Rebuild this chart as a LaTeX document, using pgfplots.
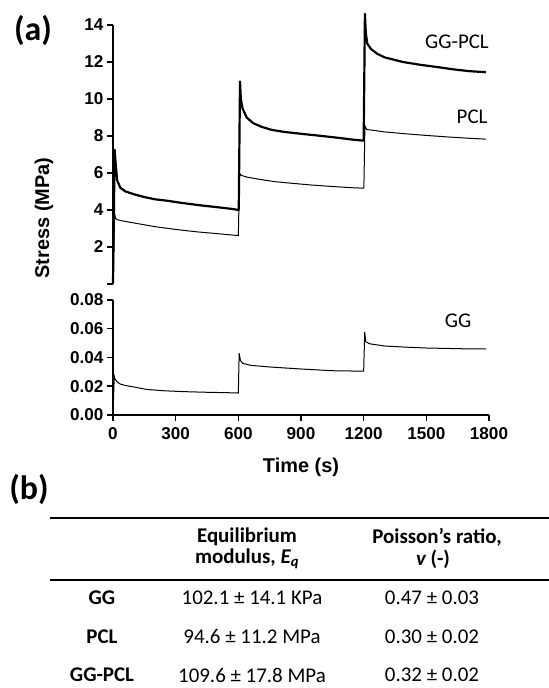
\documentclass[border=0pt]{standalone}
\usepackage{pgfplots}
\pgfplotsset{compat=1.18}
\usepackage{fontspec}
\setmainfont{Liberation Sans}
\newfontfamily\calib{Carlito}
\begin{document}
\begin{tikzpicture}
\path[use as bounding box] (0,0) rectangle (549bp,688bp);
\pgfplotsset{
  common/.style={
    scale only axis, width=376bp, xmin=0, xmax=1800, clip=false,
    tick align=outside, major tick length=6bp,
    tick style={line width=1.5bp, black},
    axis line style={line width=1.8bp},
    /pgf/number format/assume math mode=true,
    /pgf/number format/set thousands separator={},
    tick label style={font=\fontsize{17.2}{20}\selectfont\bfseries},
  }
}
% ---------- bottom axis (GG) ----------
\begin{axis}[common, at={(113bp,273bp)}, anchor=south west, height=115bp,
  ymin=0, ymax=0.08, axis lines*=left,
  xtick={0,300,600,900,1200,1500,1800},
  ytick={0,0.02,0.04,0.06,0.08},
  xticklabel style={yshift=-3bp},
  yticklabel style={/pgf/number format/.cd, fixed, fixed zerofill, precision=2},
  scaled y ticks=false]
\addplot[black, line width=1bp] coordinates {
(0,0) (6,0.027) (10,0.025) (20,0.023) (35,0.0215) (60,0.0205) (100,0.0195)
(160,0.0178) (250,0.0168) (350,0.0162) (450,0.0158) (550,0.0155) (600,0.0153)
(604,0.043) (610,0.038) (620,0.036) (660,0.0345) (760,0.0333) (900,0.032)
(1050,0.0308) (1190,0.0305) (1200,0.0306) (1205,0.0577) (1210,0.051) (1230,0.0495)
(1300,0.048) (1400,0.0472) (1500,0.0466) (1600,0.0463) (1700,0.046) (1785,0.046)};
\end{axis}
% ---------- top axis (PCL, GG-PCL) ----------
\begin{axis}[common, at={(113bp,404bp)}, anchor=south west, height=259bp,
  ymin=0, ymax=14, axis y line*=left, axis x line=none,
  xtick=\empty, ytick={0,2,4,6,8,10,12,14},
  yticklabels={,2,4,6,8,10,12,14}]
\addplot[black, line width=1bp] coordinates {
(0,0) (8,3.8) (12,3.55) (20,3.48) (40,3.42) (100,3.3) (200,3.1) (300,2.95)
(400,2.82) (500,2.72) (598,2.62) (600,2.62) (606,6.0) (612,5.88) (640,5.78)
(700,5.66) (775,5.53) (850,5.45) (950,5.35) (1050,5.27) (1150,5.2) (1198,5.18)
(1201,5.2) (1206,8.55) (1215,8.35) (1250,8.3) (1300,8.22) (1400,8.12)
(1500,8.03) (1600,7.95) (1700,7.88) (1785,7.83)};
\addplot[black, line width=2.2bp, line join=round] coordinates {
(0,0) (8,7.25) (12,6.6) (20,5.6) (35,5.2) (60,5.0) (100,4.85) (150,4.7)
(200,4.58) (260,4.5) (330,4.38) (420,4.25) (500,4.15) (575,4.05) (600,4.0)
(602,4.0) (608,10.95) (612,10.0) (620,9.5) (640,9.0) (670,8.7) (710,8.5)
(760,8.33) (820,8.22) (900,8.12) (1000,8.0) (1080,7.9) (1150,7.8) (1198,7.75)
(1200,7.75) (1206,14.6) (1210,13.6) (1217,13.0) (1235,12.7) (1264,12.45)
(1300,12.25) (1388,12.0) (1470,11.85) (1550,11.73) (1630,11.6) (1710,11.5)
(1785,11.45)};
\end{axis}
% ---------- labels ----------
\node[rotate=90, font=\fontsize{20}{24}\selectfont\bfseries] at (44bp,470bp) {Stress (MPa)};
\node[font=\fontsize{20}{24}\selectfont\bfseries] at (301bp,221bp) {Time (s)};
\node[font=\calib\fontsize{21}{24}\selectfont] at (457bp,646bp) {GG-PCL};
\node[font=\calib\fontsize{21}{24}\selectfont, anchor=east] at (491bp,571bp) {PCL};
\node[font=\calib\fontsize{21}{24}\selectfont] at (458bp,367bp) {GG};
\node[font=\calib\fontsize{34}{36}\selectfont\bfseries] at (33bp,657bp) {(a)};
\node[font=\calib\fontsize{34}{36}\selectfont\bfseries] at (29bp,199bp) {(b)};
% ---------- table ----------
\draw[line width=2bp] (50bp,170bp) -- (549bp,170bp);
\draw[line width=1.5bp] (50bp,108bp) -- (549bp,108bp);
\begin{scope}[every node/.style={font=\calib\fontsize{21}{24}\selectfont}]
\node[font=\calib\fontsize{21}{24}\selectfont\bfseries] at (247bp,151bp) {Equilibrium};
\node[font=\calib\fontsize{21}{24}\selectfont\bfseries] at (247bp,129bp) {modulus, {\itshape E}\textsubscript{\itshape q}};
\node[font=\calib\fontsize{21}{24}\selectfont\bfseries] at (437bp,151bp) {Poisson’s ratio,};
\node[font=\calib\fontsize{21}{24}\selectfont\bfseries] at (433bp,129bp) {{\itshape v} (-)};
\node[font=\calib\fontsize{21}{24}\selectfont\bfseries] at (102bp,90bp) {GG};
\node[font=\calib\fontsize{21}{24}\selectfont\bfseries] at (102bp,51bp) {PCL};
\node[font=\calib\fontsize{21}{24}\selectfont\bfseries] at (102bp,13bp) {GG-PCL};
\node at (252bp,90bp) {102.1 ± 14.1 KPa};
\node at (252bp,51bp) {94.6 ± 11.2 MPa};
\node at (252bp,13bp) {109.6 ± 17.8 MPa};
\node at (432bp,90bp) {0.47 ± 0.03};
\node at (432bp,51bp) {0.30 ± 0.02};
\node at (432bp,13bp) {0.32 ± 0.02};
\end{scope}
\end{tikzpicture}
\end{document}
